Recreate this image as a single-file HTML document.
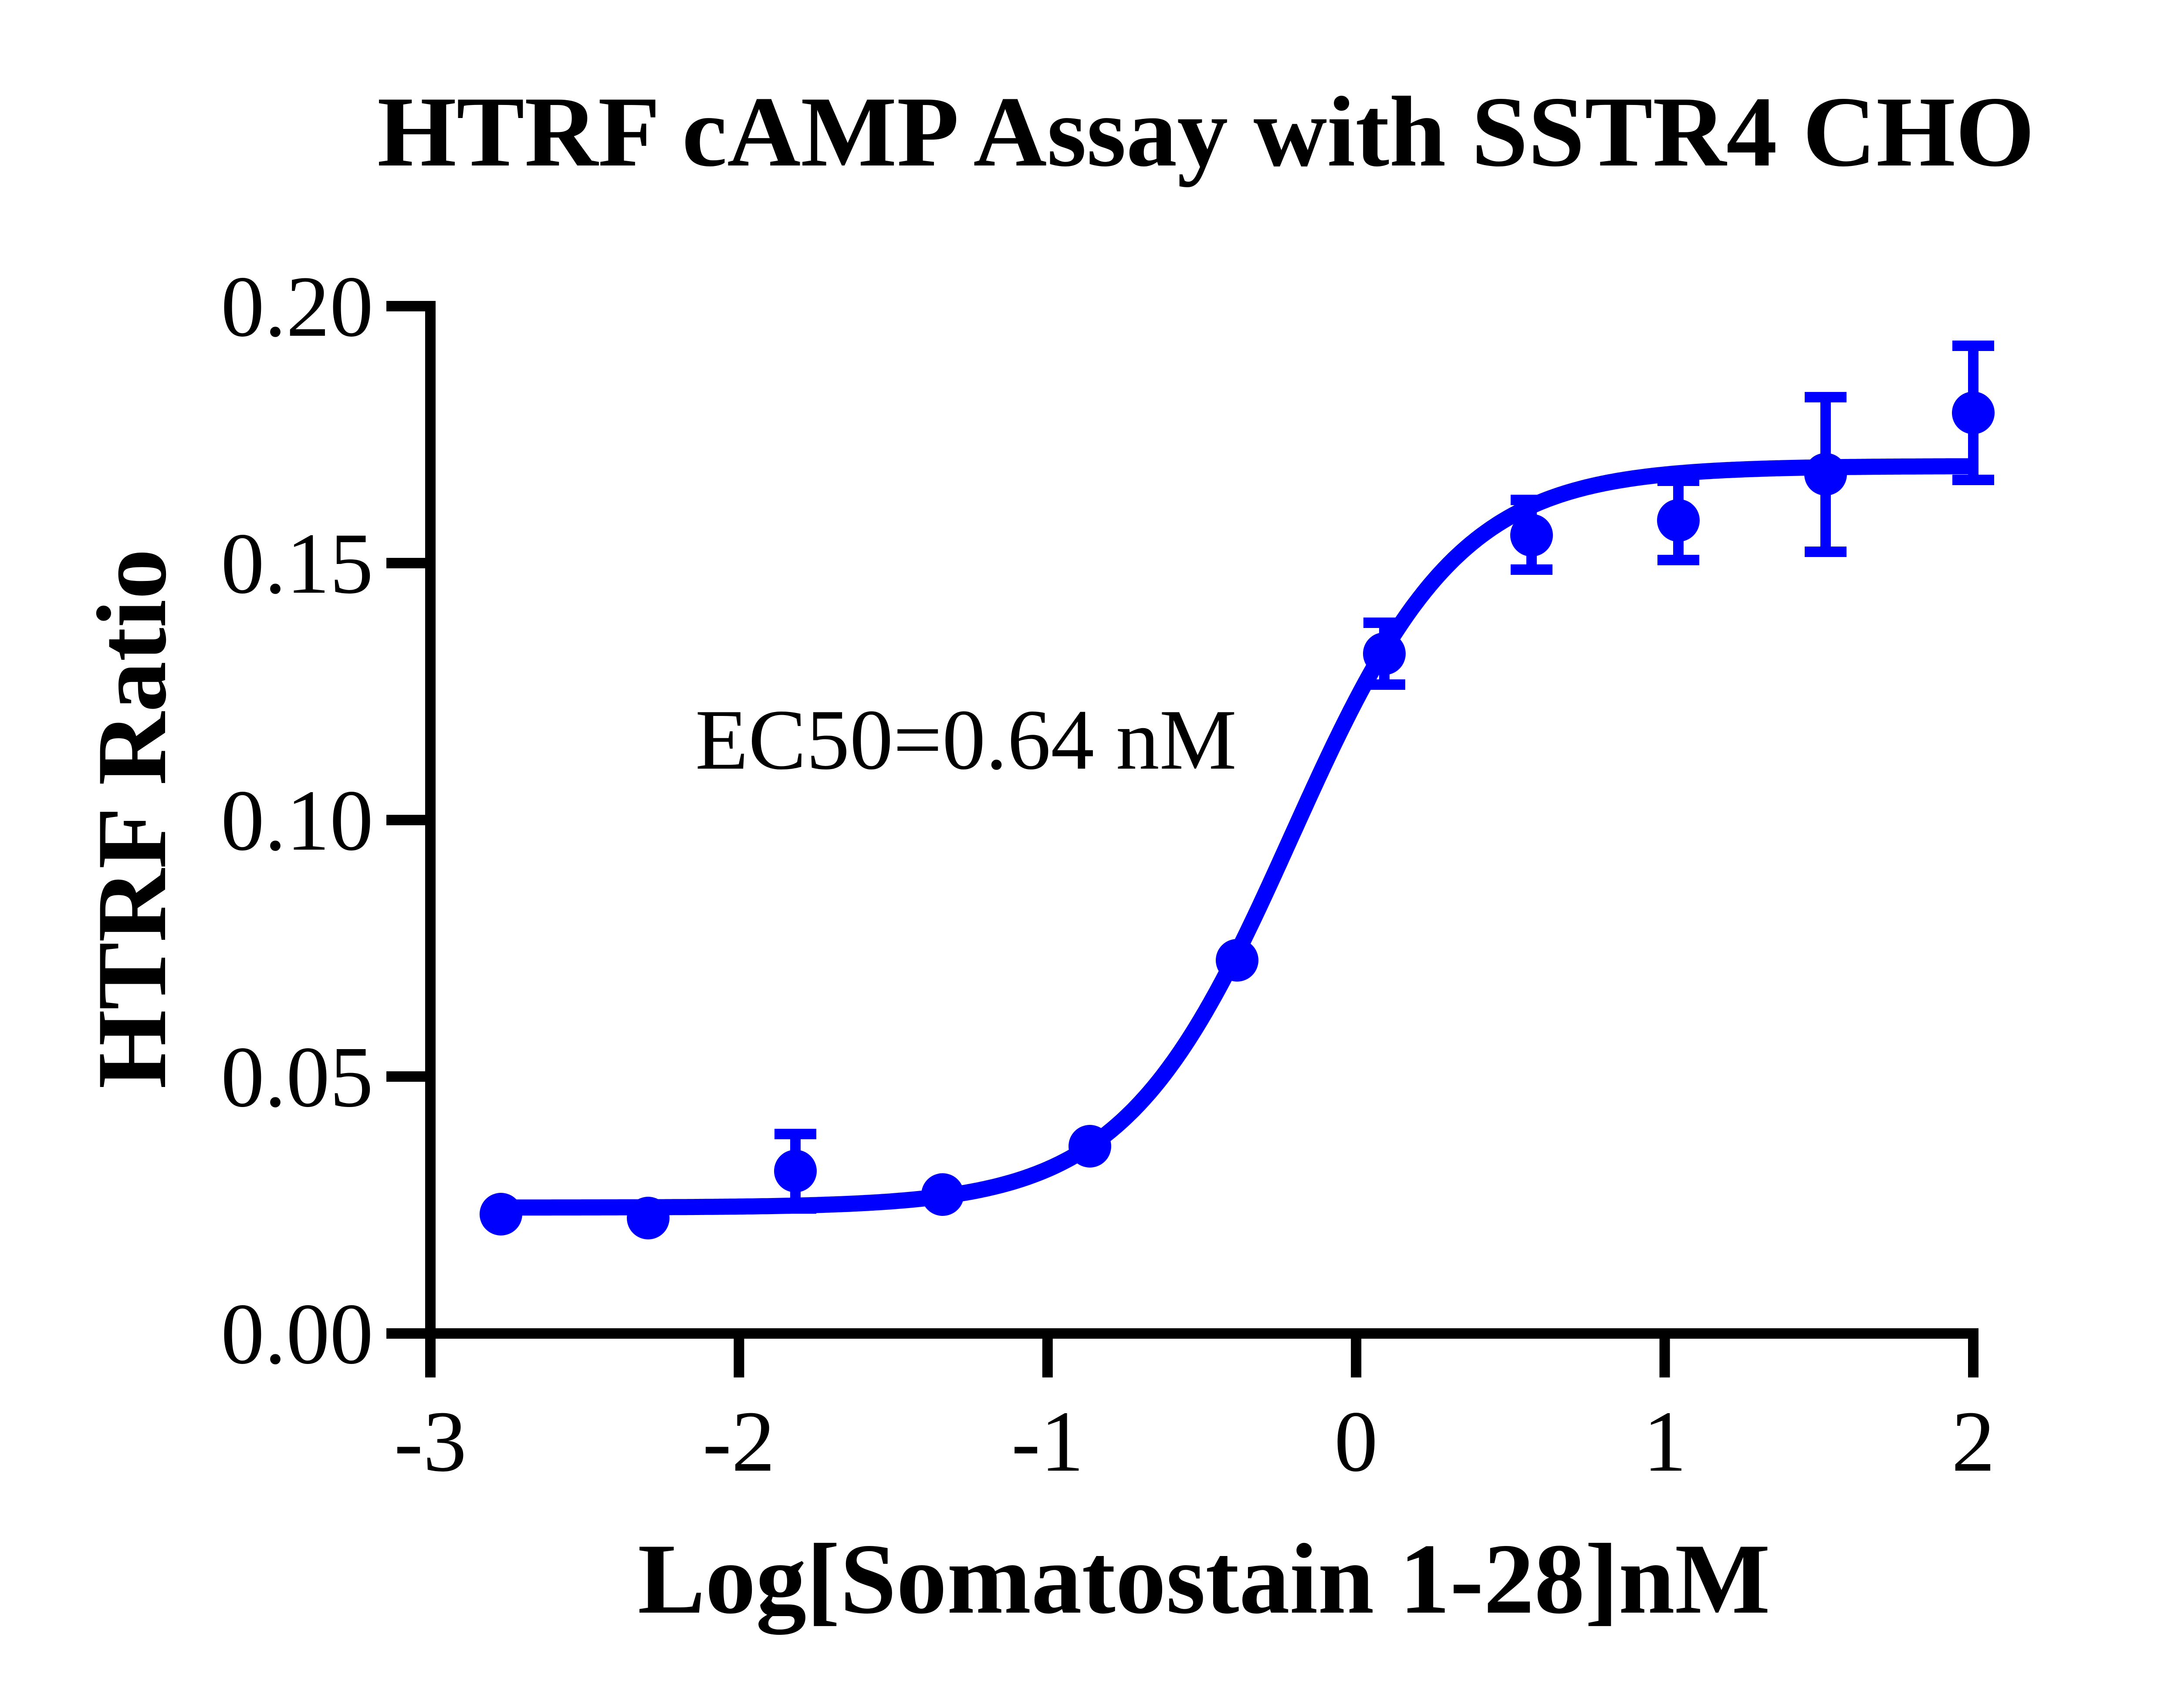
<!DOCTYPE html>
<html>
<head>
<meta charset="utf-8">
<style>
  html, body { margin: 0; padding: 0; background: #ffffff; }
  svg { display: block; }
  text { font-family: "Liberation Serif", "Times New Roman", serif; fill: #000; }
</style>
</head>
<body>
<svg xmlns="http://www.w3.org/2000/svg" width="5100" height="3922" viewBox="0 0 5100 3922">
  <rect x="0" y="0" width="5100" height="3922" fill="#ffffff"/>

  <!-- Title -->
  <text x="866" y="380" font-size="231" font-weight="bold" textLength="3805" lengthAdjust="spacingAndGlyphs">HTRF cAMP Assay with SSTR4 CHO</text>

  <!-- Y axis label -->
  <text transform="translate(379,1880) rotate(-90)" text-anchor="middle" font-size="228" font-weight="bold" textLength="1240" lengthAdjust="spacingAndGlyphs">HTRF Ratio</text>

  <!-- X axis label -->
  <text x="1464" y="3703" font-size="231" font-weight="bold" textLength="2600" lengthAdjust="spacingAndGlyphs">Log[Somatostain 1-28]nM</text>

  <!-- EC50 annotation -->
  <text x="1596" y="1765" font-size="198" textLength="1243" lengthAdjust="spacingAndGlyphs">EC50=0.64 nM</text>

  <!-- Axes -->
  <g stroke="#000" stroke-width="24" fill="none" stroke-linecap="butt">
    <line x1="988" y1="691" x2="988" y2="3074"/>
    <line x1="976" y1="3062" x2="4542" y2="3062"/>
    <!-- y ticks -->
    <line x1="887" y1="703" x2="988" y2="703"/>
    <line x1="887" y1="1293" x2="988" y2="1293"/>
    <line x1="887" y1="1883" x2="988" y2="1883"/>
    <line x1="887" y1="2472" x2="988" y2="2472"/>
    <line x1="887" y1="3062" x2="988" y2="3062"/>
    <!-- x ticks -->
    <line x1="988" y1="3062" x2="988" y2="3163"/>
    <line x1="1696.4" y1="3062" x2="1696.4" y2="3163"/>
    <line x1="2404.8" y1="3062" x2="2404.8" y2="3163"/>
    <line x1="3113.2" y1="3062" x2="3113.2" y2="3163"/>
    <line x1="3821.6" y1="3062" x2="3821.6" y2="3163"/>
    <line x1="4530" y1="3050" x2="4530" y2="3163"/>
  </g>

  <!-- Y tick labels -->
  <g font-size="200" text-anchor="end">
    <text x="857" y="771">0.20</text>
    <text x="857" y="1361">0.15</text>
    <text x="857" y="1951">0.10</text>
    <text x="857" y="2540">0.05</text>
    <text x="857" y="3130">0.00</text>
  </g>

  <!-- X tick labels -->
  <g font-size="200" text-anchor="middle">
    <text x="988" y="3377">-3</text>
    <text x="1696" y="3377">-2</text>
    <text x="2405" y="3377">-1</text>
    <text x="3113" y="3377">0</text>
    <text x="3822" y="3377">1</text>
    <text x="4530" y="3377">2</text>
  </g>

  <!-- Fitted curve -->
  <polyline id="fitcurve" fill="none" stroke="#0000ff" stroke-width="37" stroke-linejoin="round" stroke-linecap="butt"
    points="1150.2,2772.8 1342.2,2772.5 1696.4,2770.6 2050.6,2758.3 2227.7,2736.8 2404.8,2685.0 2493.4,2637.6 2581.9,2568.0 2670.5,2469.5 2759.0,2337.5 2847.6,2172.7 2936.1,1984.2 3024.7,1789.2 3113.2,1607.7 3201.8,1454.1 3290.3,1334.4 3378.9,1247.1 3467.4,1186.1 3556.0,1145.2 3644.5,1118.3 3821.6,1089.7 3998.7,1078.0 4175.8,1073.3 4542,1070.7"/>

  <!-- Error bars -->
  <g stroke="#0000ff" stroke-width="24" fill="none" stroke-linecap="butt">
    <line x1="1826" y1="2604" x2="1826" y2="2775"/>
    <line x1="1778" y1="2604" x2="1874" y2="2604"/>
    <line x1="1778" y1="2775" x2="1874" y2="2775"/>

    <line x1="3178" y1="1430" x2="3178" y2="1572"/>
    <line x1="3130" y1="1430" x2="3226" y2="1430"/>
    <line x1="3130" y1="1572" x2="3226" y2="1572"/>

    <line x1="3516" y1="1148" x2="3516" y2="1308"/>
    <line x1="3468" y1="1148" x2="3564" y2="1148"/>
    <line x1="3468" y1="1308" x2="3564" y2="1308"/>

    <line x1="3853" y1="1104" x2="3853" y2="1286"/>
    <line x1="3805" y1="1104" x2="3901" y2="1104"/>
    <line x1="3805" y1="1286" x2="3901" y2="1286"/>

    <line x1="4191" y1="912" x2="4191" y2="1267"/>
    <line x1="4143" y1="912" x2="4239" y2="912"/>
    <line x1="4143" y1="1267" x2="4239" y2="1267"/>

    <line x1="4530" y1="794" x2="4530" y2="1102"/>
    <line x1="4482" y1="794" x2="4578" y2="794"/>
    <line x1="4482" y1="1102" x2="4578" y2="1102"/>
  </g>

  <!-- Data points -->
  <g fill="#0000ff">
    <circle cx="1150" cy="2788" r="49"/>
    <circle cx="1488" cy="2797" r="49"/>
    <circle cx="1826" cy="2689" r="49"/>
    <circle cx="2164" cy="2743" r="49"/>
    <circle cx="2502" cy="2632" r="49"/>
    <circle cx="2840" cy="2205" r="49"/>
    <circle cx="3178" cy="1501" r="49"/>
    <circle cx="3516" cy="1229" r="49"/>
    <circle cx="3853" cy="1195" r="49"/>
    <circle cx="4191" cy="1089" r="49"/>
    <circle cx="4530" cy="948" r="49"/>
  </g>
</svg>
<script>
(function () {
  var B = 0.0245, T = 0.1688, L = -0.21, h = 1.6;
  function X(u) { return 988 + (u + 3) * 708.4; }
  function Y(v) { return 3062 - v * 11800; }
  var pts = [];
  var u0 = -2.771, u1 = 2.017, n = 600;
  for (var i = 0; i <= n; i++) {
    var u = u0 + (u1 - u0) * i / n;
    var v = B + (T - B) / (1 + Math.pow(10, (L - u) * h));
    pts.push(X(u).toFixed(1) + "," + Y(v).toFixed(1));
  }
  var el = document.getElementById("fitcurve");
  if (el) el.setAttribute("points", pts.join(" "));
})();
</script>
</body>
</html>
